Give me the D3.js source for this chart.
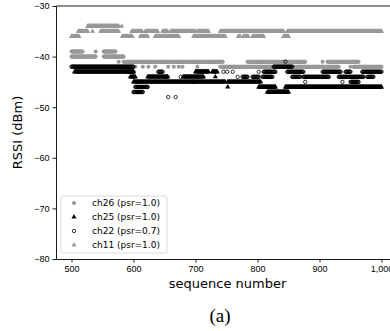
<!DOCTYPE html>
<html>
<head>
<meta charset="utf-8">
<title>RSSI per channel</title>
<style>
  body { margin: 0; background: #fff; }
  svg { display: block; font-family: "DejaVu Sans", sans-serif; }
  .axis text { font-size: 9px; fill: #000; }
  .axis path, .axis line { stroke: #000; stroke-width: 0.9; }
</style>
<script src="https://cdn.jsdelivr.net/npm/d3@7"></script>
</head>
<body>
<svg width="390" height="331"></svg>
<script>
// tick values
const seqTicks = [500, 600, 700, 800, 900, 1000];
const rssiTicks = [-80, -70, -60, -50, -40, -30];

// runs: [first seq, last seq, rssi]
const ch26Runs = [
  [500, 518, -39], [539, 539, -39], [552, 571, -39],
  [500, 539, -40], [552, 584, -40],
  [576, 576, -41], [584, 744, -41], [784, 877, -41], [905, 905, -41], [913, 963, -41],
  [603, 603, -42], [615, 615, -42], [624, 624, -42], [635, 635, -42], [656, 656, -42],
  [665, 665, -42], [673, 673, -42], [679, 679, -42], [703, 703, -42], [740, 792, -42],
  [794, 824, -42], [858, 931, -42], [950, 950, -42], [955, 1000, -42]
];
const ch25Runs = [
  [505, 600, -43], [700, 721, -43], [727, 735, -43],
  [595, 603, -44], [623, 655, -44], [680, 713, -44], [732, 732, -44],
  [600, 748, -45], [752, 805, -45],
  [752, 752, -46], [802, 829, -46], [845, 1000, -46],
  [816, 850, -47]
];
const ch22Runs = [
  [845, 845, -41],
  [500, 600, -42], [826, 856, -42],
  [523, 523, -43], [590, 600, -43], [640, 647, -43], [745, 745, -43], [751, 751, -43],
  [760, 760, -43], [802, 802, -43], [810, 829, -43], [848, 874, -43], [905, 934, -43],
  [942, 950, -43], [969, 1000, -43],
  [655, 655, -44], [676, 676, -44], [768, 768, -44], [776, 784, -44], [792, 802, -44],
  [808, 824, -44], [856, 869, -44], [874, 915, -44], [931, 945, -44], [947, 971, -44],
  [977, 987, -44],
  [606, 606, -45], [697, 697, -45], [877, 877, -45], [937, 937, -45], [950, 963, -45],
  [603, 623, -46],
  [600, 615, -47],
  [656, 656, -48], [668, 668, -48]
];
const ch11Runs = [
  [526, 576, -34], [581, 581, -34],
  [511, 526, -35], [534, 534, -35], [547, 576, -35], [597, 614, -35], [619, 639, -35],
  [647, 655, -35], [660, 700, -35], [703, 721, -35], [740, 842, -35], [848, 1000, -35],
  [500, 512, -36], [582, 598, -36], [611, 623, -36], [635, 673, -36], [697, 748, -36],
  [769, 772, -36], [777, 785, -36], [792, 810, -36], [842, 850, -36]
];

const series = [
  {name: "ch26 (psr=1.0)", runs: ch26Runs, shape: "circle", color: "#999999", open: false},
  {name: "ch25 (psr=1.0)", runs: ch25Runs, shape: "triangle", color: "#000000", open: false},
  {name: "ch22 (psr=0.7)", runs: ch22Runs, shape: "circle", color: "#000000", open: true},
  {name: "ch11 (psr=1.0)", runs: ch11Runs, shape: "triangle", color: "#999999", open: false}
];

const svg = d3.select("svg");
const mLeft = 56, mRight = 397, mTop = 6, mBottom = 259;

const x = d3.scaleLinear().domain([475, 1025]).range([mLeft, mRight]);
const y = d3.scaleLinear().domain([-80, -30]).range([mBottom, mTop]);

// points
const sym = {
  circle: d3.symbol().type(d3.symbolCircle).size(13),
  triangle: d3.symbol().type(d3.symbolTriangle).size(11)
};
const openCircle = d3.symbol().type(d3.symbolCircle).size(9);

series.forEach(s => {
  const pts = s.runs.flatMap(([a, b, v]) => d3.range(a, b + 1).map(q => ({seq: q, rssi: v})));
  svg.append("g")
    .selectAll("path")
    .data(pts)
    .join("path")
    .attr("transform", d => `translate(${x(d.seq)},${y(d.rssi)})`)
    .attr("d", s.open ? openCircle() : sym[s.shape]())
    .attr("fill", s.open ? "none" : s.color)
    .attr("stroke", s.open ? s.color : "none")
    .attr("stroke-width", 0.8);
});

// axes
svg.append("g")
  .attr("class", "axis")
  .attr("transform", `translate(0,${mBottom})`)
  .call(d3.axisBottom(x).tickValues(seqTicks).tickSize(3.5).tickSizeOuter(0).tickPadding(3));

svg.append("g")
  .attr("class", "axis")
  .attr("transform", `translate(${mLeft},0)`)
  .call(d3.axisLeft(y).tickValues(rssiTicks).tickSize(3.5).tickSizeOuter(0).tickPadding(3));

svg.append("line")
  .attr("x1", mLeft).attr("x2", mRight)
  .attr("y1", mTop).attr("y2", mTop)
  .attr("stroke", "#000").attr("stroke-width", 0.9);

// labels
svg.append("text")
  .attr("x", (mLeft + mRight) / 2 + 1).attr("y", 288)
  .attr("text-anchor", "middle")
  .style("font-size", "13px")
  .text("sequence number");

svg.append("text")
  .attr("transform", `translate(22,${(mTop + mBottom) / 2}) rotate(-90)`)
  .attr("text-anchor", "middle")
  .style("font-size", "13px")
  .text("RSSI (dBm)");

svg.append("text")
  .attr("x", 220).attr("y", 322)
  .attr("text-anchor", "middle")
  .style("font-family", "'Liberation Serif', serif")
  .style("font-size", "19px")
  .text("(a)");

// legend
const lg = svg.append("g").attr("transform", "translate(61,196)");
lg.append("rect")
  .attr("width", 106).attr("height", 57)
  .attr("rx", 2)
  .attr("fill", "#fff").attr("fill-opacity", 0.8)
  .attr("stroke", "#d0d0d0").attr("stroke-width", 0.8);

const items = lg.selectAll("g.item")
  .data(series)
  .join("g")
  .attr("class", "item")
  .attr("transform", (d, i) => `translate(0,${7 + i * 14})`);

items.append("path")
  .attr("transform", "translate(13,0)")
  .attr("d", d => d.open ? openCircle() : sym[d.shape]())
  .attr("fill", d => d.open ? "none" : d.color)
  .attr("stroke", d => d.open ? d.color : "none")
  .attr("stroke-width", 0.8);

items.append("text")
  .attr("x", 31).attr("y", 3.2)
  .style("font-size", "9px")
  .text(d => d.name);
</script>
</body>
</html>
